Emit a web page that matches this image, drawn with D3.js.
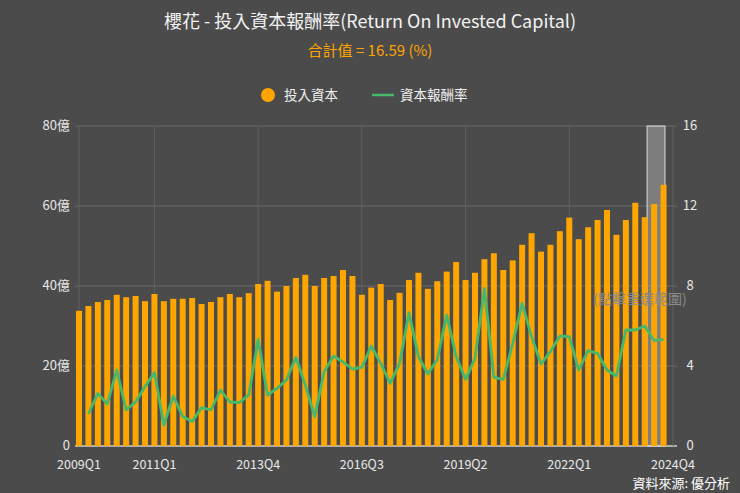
<!DOCTYPE html><html><head><meta charset="utf-8"><script src="https://cdn.jsdelivr.net/npm/d3@7"></script>
<style>body{margin:0;background:#4b4b4b;font-family:"Noto Sans CJK TC","Noto Sans",sans-serif}</style></head><body><svg id="c" width="740" height="493"></svg>
<script>
const quarters=[];for(let y=2009;y<=2024;y++)for(let q=1;q<=4;q++)quarters.push(y+"Q"+q);
const capital=[33.8,35,36,36.5,37.8,37.2,37.5,36.2,38,36.2,36.8,36.8,37,35.5,36,37.2,38,37.2,38.2,40.5,41.3,38.6,40,42,42.8,40,42,42.5,44,42.5,37.8,39.6,40.5,36.5,38.3,41.5,43.3,39.3,41.2,43.6,46,41.5,43.3,46.7,48.2,44,46.4,50.3,53.2,48.6,50.3,53.7,57.1,51.7,54.7,56.5,59,52.8,56.5,60.8,57.2,60.5,65.3,null];
const roic=[null,1.6,2.63,2.1,3.8,1.8,2.2,2.97,3.67,1.05,2.5,1.47,1.22,1.92,1.8,2.8,2.2,2.17,2.55,5.33,2.55,2.88,3.3,4.43,3.05,1.47,3.72,4.5,4.2,3.85,3.93,5.0,4.13,3.13,4.13,6.67,4.47,3.6,4.33,6.55,4.47,3.33,4.38,7.88,3.43,3.33,5.13,7.13,5.47,4.1,4.72,5.5,5.47,3.8,4.77,4.63,3.8,3.5,5.8,5.8,6.0,5.27,5.33,null];
const tickLabels=["2009Q1","2011Q1","2013Q4","2016Q3","2019Q2","2022Q1","2024Q4"];
const leftTicks=[0,20,40,60,80],rightTicks=[0,4,8,12,16];
const svg=d3.select("#c");
const L=75,R=677,T=126,B=446;
const x=d3.scalePoint().domain(quarters).range([L+4,R-4]);
const yL=d3.scaleLinear().domain([0,80]).range([B,T]);
const yR=d3.scaleLinear().domain([0,16]).range([B,T]);
const g=svg.append("g");
g.selectAll(".hg").data(leftTicks).join("line").attr("x1",L).attr("x2",R).attr("y1",d=>yL(d)).attr("y2",d=>yL(d)).attr("stroke",d=>d?"#6a6a6a":"#cfcfcf").attr("stroke-width",d=>d?1:1.5);
g.selectAll(".vg").data(tickLabels).join("line").attr("x1",d=>x(d)).attr("x2",d=>x(d)).attr("y1",T).attr("y2",B).attr("stroke","#606060");
const bw=x.step();
g.append("rect").attr("x",x("2024Q2")-bw*0.75).attr("width",bw*1.9).attr("y",T).attr("height",B-T).attr("fill","rgba(255,255,255,0.28)").attr("stroke","#ddd").attr("stroke-width",1);
g.selectAll(".bar").data(quarters.map((q,i)=>({q,v:capital[i]})).filter(d=>d.v!=null)).join("rect")
 .attr("x",d=>x(d.q)-3).attr("width",6).attr("y",d=>yL(d.v)).attr("height",d=>B-yL(d.v)).attr("fill","#ffa500");
const line=d3.line().defined(d=>d.v!=null).x(d=>x(d.q)).y(d=>yR(d.v));
g.append("path").datum(quarters.map((q,i)=>({q,v:roic[i]}))).attr("d",line).attr("fill","none").attr("stroke","#45b86b").attr("stroke-width",2.8).attr("stroke-linejoin","round");
const tc="#e8e8e8";
svg.selectAll(".ll").data(leftTicks).join("text").attr("x",70).attr("y",d=>yL(d)+4).attr("text-anchor","end").attr("fill",tc).attr("font-size",13).text(d=>d+(d?"億":""));
svg.selectAll(".rl").data(rightTicks).join("text").attr("x",690).attr("y",d=>yR(d)+4).attr("text-anchor","middle").attr("fill",tc).attr("font-size",13).text(d=>d);
svg.selectAll(".xl").data(tickLabels).join("text").attr("x",d=>x(d)).attr("y",469).attr("text-anchor","middle").attr("fill",tc).attr("font-size",12.5).text(d=>d);
svg.append("text").attr("x",370).attr("y",28).attr("text-anchor","middle").attr("fill","#f2f2f2").attr("font-size",18).text("櫻花 - 投入資本報酬率(Return On Invested Capital)");
svg.append("text").attr("x",370).attr("y",56).attr("text-anchor","middle").attr("fill","#ffa500").attr("font-size",15).text("合計值 = 16.59 (%)");
svg.append("circle").attr("cx",268).attr("cy",95).attr("r",7).attr("fill","#ffa500");
svg.append("text").attr("x",284).attr("y",100).attr("fill","#eee").attr("font-size",13.5).text("投入資本");
svg.append("line").attr("x1",372).attr("x2",394).attr("y1",95).attr("y2",95).attr("stroke","#45b86b").attr("stroke-width",2.5);
svg.append("text").attr("x",400).attr("y",100).attr("fill","#eee").attr("font-size",13.5).text("資本報酬率");
svg.append("text").attr("x",640).attr("y",304).attr("text-anchor","middle").attr("fill","#8a8a8a").attr("font-size",14).text("(點擊重選範圍)");
svg.append("text").attr("x",730).attr("y",488).attr("text-anchor","end").attr("fill","#fff").attr("font-size",13).text("資料來源: 優分析");
</script></body></html>
